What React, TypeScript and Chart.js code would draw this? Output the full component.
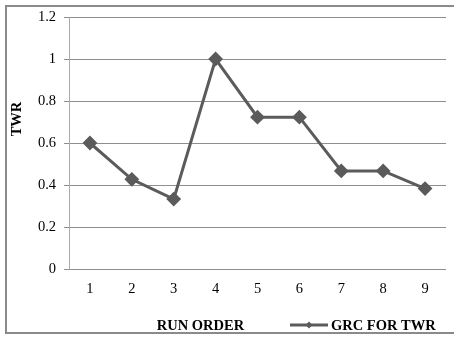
import React, { useEffect, useRef } from "react";
import { Chart, registerables } from "chart.js";

Chart.register(...registerables);

// Run order on the x axis and the grey relational coefficient for TWR
const runOrder = ["1", "2", "3", "4", "5", "6", "7", "8", "9"];
const grcForTwr = [0.6, 0.427, 0.333, 1, 0.723, 0.723, 0.467, 0.467, 0.383];
const seriesName = "GRC FOR TWR";
const xTitle = "RUN ORDER";
const yTitle = "TWR";

const LINE = "#5b5b5b";
const GRID = "#8e8e8e";
const SERIF = "'Liberation Serif', 'Times New Roman', serif";

// Frame, axis titles and a hand-drawn legend entry at the bottom right
const decorations = {
  id: "decorations",
  beforeDraw(chart: Chart) {
    const ctx = chart.ctx;
    ctx.save();
    ctx.fillStyle = "#ffffff";
    ctx.fillRect(0, 0, chart.width, chart.height);
    ctx.strokeStyle = "#8a8a8a";
    ctx.lineWidth = 2;
    ctx.beginPath();
    ctx.moveTo(600, 6);
    ctx.lineTo(6, 6);
    ctx.lineTo(6, 333);
    ctx.lineTo(600, 333);
    ctx.stroke();
    ctx.restore();
  },
  afterDraw(chart: Chart) {
    const ctx = chart.ctx;
    ctx.save();
    ctx.fillStyle = "#000";
    ctx.font = `bold 14.5px ${SERIF}`;
    ctx.textBaseline = "middle";

    // y axis title
    ctx.save();
    ctx.translate(17, 119);
    ctx.rotate(-Math.PI / 2);
    ctx.textAlign = "center";
    ctx.fillText(yTitle, 0, 0);
    ctx.restore();

    // x axis title
    ctx.textAlign = "center";
    ctx.fillText(xTitle, 200.5, 326);

    // legend
    ctx.strokeStyle = LINE;
    ctx.lineWidth = 3;
    ctx.beginPath();
    ctx.moveTo(290, 325);
    ctx.lineTo(328, 325);
    ctx.stroke();
    ctx.fillStyle = LINE;
    ctx.beginPath();
    ctx.moveTo(309, 321.5);
    ctx.lineTo(312.5, 325);
    ctx.lineTo(309, 328.5);
    ctx.lineTo(305.5, 325);
    ctx.closePath();
    ctx.fill();
    ctx.fillStyle = "#000";
    ctx.textAlign = "left";
    ctx.fillText(seriesName, 331, 326);
    ctx.restore();
  },
};

export default function App() {
  const canvasRef = useRef<HTMLCanvasElement | null>(null);

  useEffect(() => {
    if (!canvasRef.current) return;
    const chart = new Chart(canvasRef.current, {
      type: "line",
      data: {
        labels: runOrder,
        datasets: [
          {
            label: seriesName,
            data: grcForTwr,
            borderColor: LINE,
            backgroundColor: LINE,
            borderWidth: 3,
            pointStyle: "rectRot",
            pointRadius: 6,
            pointBorderWidth: 2,
            pointBackgroundColor: LINE,
            pointBorderColor: LINE,
            tension: 0,
          },
        ],
      },
      options: {
        responsive: false,
        animation: false,
        devicePixelRatio: 1,
        layout: { padding: { left: 0, top: 17, right: 2, bottom: 0 } },
        plugins: {
          legend: { display: false },
          tooltip: { enabled: false },
        },
        scales: {
          x: {
            offset: true,
            grid: { display: false, drawTicks: false },
            border: { display: false },
            ticks: {
              padding: 11,
              color: "#000",
              font: { family: SERIF, size: 14.5 },
              maxRotation: 0,
            },
            afterFit(scale: any) {
              scale.height = 69;
            },
          },
          y: {
            min: 0,
            max: 1.2,
            grid: {
              color: GRID,
              lineWidth: 1,
              drawTicks: true,
              tickLength: 5,
            },
            border: { display: true, color: "#aaaaaa", width: 1 },
            ticks: {
              stepSize: 0.2,
              padding: 8,
              color: "#000",
              font: { family: SERIF, size: 14.5 },
              callback: (v: any) => String(Math.round(Number(v) * 10) / 10),
            },
            afterFit(scale: any) {
              scale.width = 69;
            },
          },
        },
      },
      plugins: [decorations],
    });
    return () => chart.destroy();
  }, []);

  return (
    <div style={{ position: "fixed", left: 0, top: 0, width: 454, height: 338 }}>
      <canvas ref={canvasRef} width={454} height={338} style={{ display: "block" }} />
    </div>
  );
}
